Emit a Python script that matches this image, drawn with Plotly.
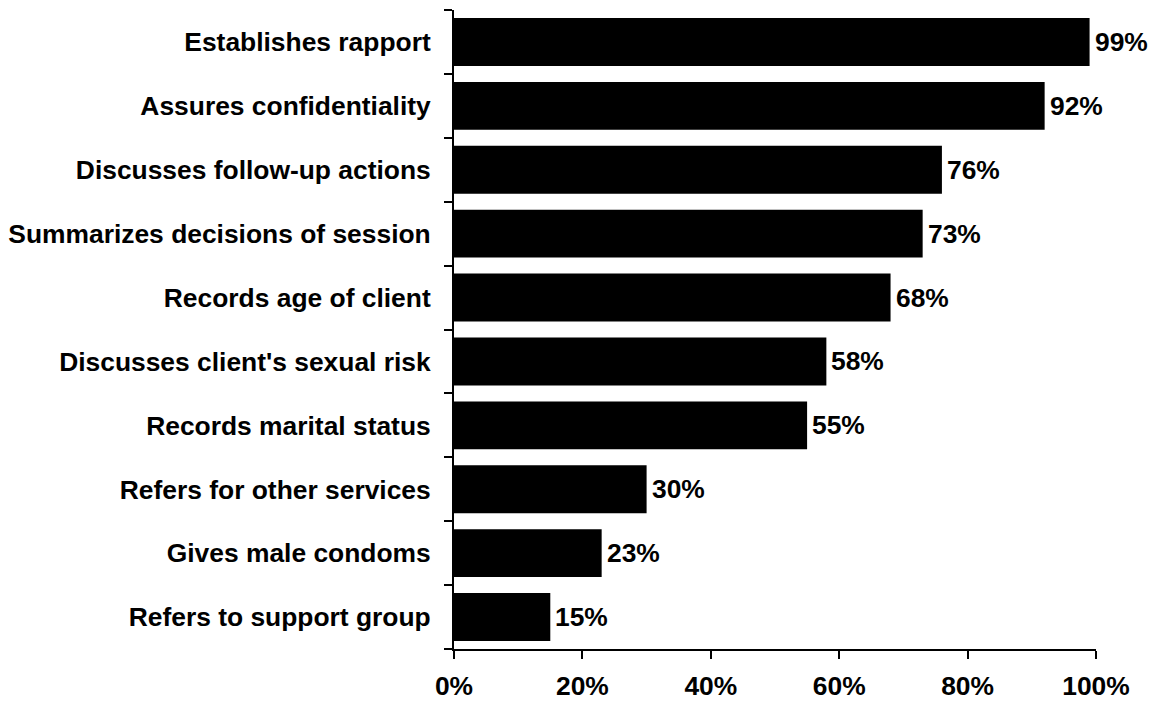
import plotly.graph_objects as go

categories = [
    "Establishes rapport",
    "Assures confidentiality",
    "Discusses follow-up actions",
    "Summarizes decisions of session",
    "Records age of client",
    "Discusses client's sexual risk",
    "Records marital status",
    "Refers for other services",
    "Gives male condoms",
    "Refers to support group",
]
values = [99, 92, 76, 73, 68, 58, 55, 30, 23, 15]
x_ticks = [0, 20, 40, 60, 80, 100]
x_tick_labels = ["0%", "20%", "40%", "60%", "80%", "100%"]

FONT = "Liberation Sans, Arial, sans-serif"
FS = 26.4

fig = go.Figure()
fig.add_trace(go.Bar(
    x=values,
    y=categories,
    orientation="h",
    marker=dict(color="black", line=dict(width=0)),
    hoverinfo="skip",
))

for c, v in zip(categories, values):
    fig.add_annotation(
        x=v, y=c, text=f"{v}%", showarrow=False,
        xanchor="left", yanchor="middle", xshift=3,
        font=dict(family=FONT, size=FS, color="black", weight="bold"),
    )

fig.update_layout(
    width=1156, height=702,
    margin=dict(l=454, r=60, t=10, b=53, autoexpand=False),
    paper_bgcolor="white", plot_bgcolor="white",
    font=dict(family=FONT, size=FS, color="black", weight="bold"),
    bargap=0.25,
    showlegend=False,
)
fig.update_xaxes(
    range=[0, 100],
    tickvals=x_ticks, ticktext=x_tick_labels,
    showgrid=False, zeroline=False,
    showline=True, linecolor="black", linewidth=2,
    ticks="outside", ticklen=8, tickwidth=2, tickcolor="black",
    ticklabelstandoff=4,
    automargin=False,
    tickfont=dict(family=FONT, size=FS, color="black", weight="bold"),
)
fig.update_yaxes(
    categoryorder="array", categoryarray=categories[::-1],
    range=[-0.5, len(categories) - 0.5],
    tickson="boundaries",
    showgrid=False, zeroline=False,
    showline=True, linecolor="black", linewidth=2,
    ticks="outside", ticklen=8, tickwidth=2, tickcolor="black",
    ticklabelstandoff=16,
    automargin=False,
    tickfont=dict(family=FONT, size=FS, color="black", weight="bold"),
)

fig.write_html(
    "out.html",
    config={"displayModeBar": False},
    post_script="document.body.style.margin='0';",
)
